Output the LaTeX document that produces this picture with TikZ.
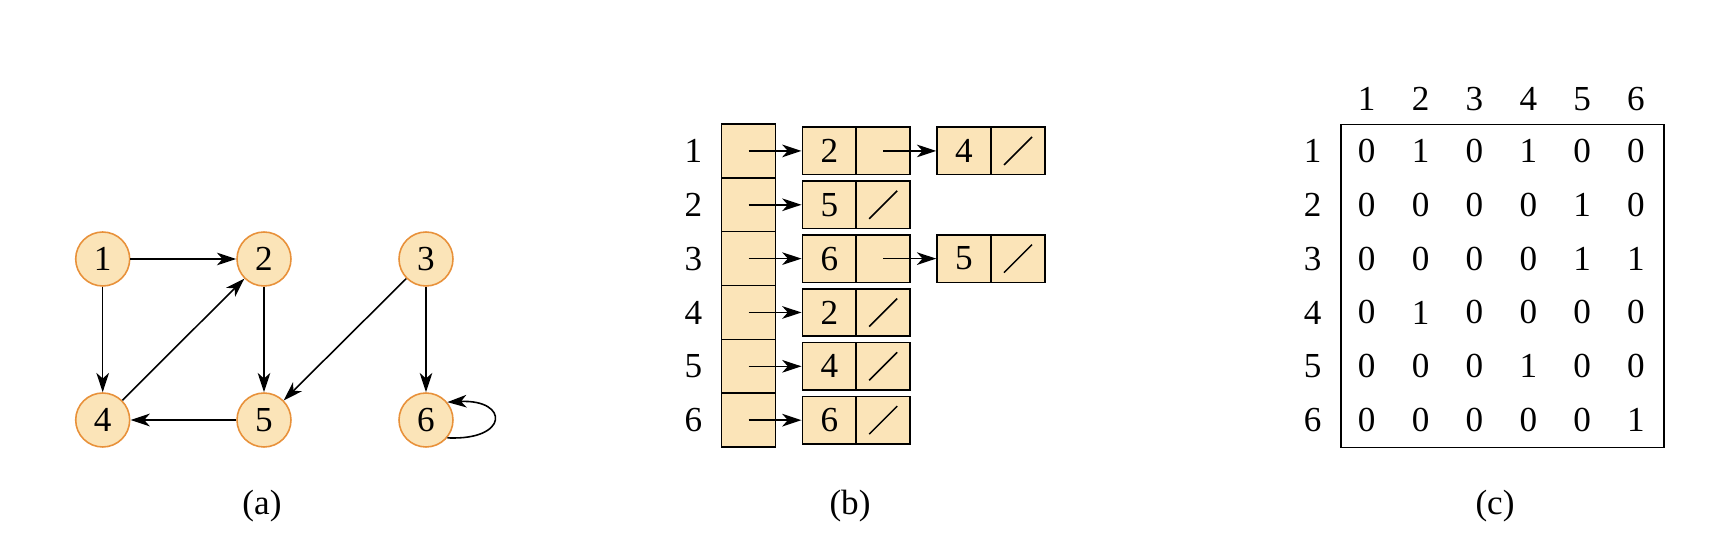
\documentclass[tikz,border=0pt]{standalone}
\usepackage{fontspec}
\setmainfont{Liberation Serif}
\usetikzlibrary{arrows.meta}
\definecolor{vfill}{HTML}{FBE4B8}
\definecolor{vline}{HTML}{E8913A}
\tikzset{
	vertex/.style={circle,draw=vline,fill=vfill,minimum size=0.54cm,inner sep=0},
	slot/.style={draw,fill=vfill,minimum width=0.54cm,minimum height=0.5385cm,inner sep=0},
	cell/.style={draw,fill=vfill,minimum width=0.54cm,minimum height=0.475cm,inner sep=0},
}
\begin{document}
\begin{tikzpicture}[line width=0.45pt,inner sep=0,font=\fontsize{10}{12}\selectfont,
		>={Stealth[length=5.5pt,width=3.6pt,inset=1.6pt]}]
		\useasboundingbox (0,0) rectangle (17.14,5.6);
		% (a) the graph
		\node[vertex] (n1) at (1.027,3.01) {1};
		\node[vertex] (n2) at (2.64,3.01) {2};
		\node[vertex] (n3) at (4.26,3.01) {3};
		\node[vertex] (n4) at (1.027,1.40) {4};
		\node[vertex] (n5) at (2.64,1.40) {5};
		\node[vertex] (n6) at (4.26,1.40) {6};
		\draw[->] (n1)--(n2);
		\draw[->] (n1)--(n4);
		\draw[->] (n2)--(n5);
		\draw[->] (n4)--(n2);
		\draw[->] (n5)--(n4);
		\draw[->] (n3)--(n5);
		\draw[->] (n3)--(n6);
		\draw[->] (n6.-40) .. controls +(0.62,-0.03) and +(0.62,0.03) .. (n6.40);
		\node (capa) at (2.62,0.54) {(a)};
		% (b) adjacency lists
		\foreach \r/\a/\b in {1/2/4,2/5/0,3/6/5,4/2/0,5/4/0,6/6/0} {
			\pgfmathsetmacro\yy{4.36-0.5385*(\r-0.5)}
			\node (r\r) at (6.933,\yy) {\r};
			\node[slot] (s\r) at (7.487,\yy) {};
			\node[cell] (k\r) at (8.293,\yy) {\a};
			\node[cell] (p\r) at (8.832,\yy) {};
			\draw[->] (s\r.center)--(k\r.west);
			\ifnum\b=0
				\draw ([shift={(-0.14,-0.14)}]p\r.center)--([shift={(0.14,0.14)}]p\r.center);
			\else
				\node[cell] (kk\r) at (9.64,\yy) {\b};
				\node[cell] (pp\r) at (10.18,\yy) {};
				\draw[->] (p\r.center)--(kk\r.west);
				\draw ([shift={(-0.14,-0.14)}]pp\r.center)--([shift={(0.14,0.14)}]pp\r.center);
			\fi
		}
		\node (capb) at (8.50,0.54) {(b)};
		% (c) adjacency matrix
		\node[draw,minimum width=3.233cm,minimum height=3.23cm] (box) at (15.024,2.742) {};
		\foreach \j in {1,...,6}
			\node (h\j) at (13.667+0.5386*\j-0.5386,4.607) {\j};
		\foreach \r/\row in {1/{0,1,0,1,0,0},2/{0,0,0,0,1,0},3/{0,0,0,0,1,1},
				4/{0,1,0,0,0,0},5/{0,0,0,1,0,0},6/{0,0,0,0,0,1}} {
			\pgfmathsetmacro\yy{4.36-0.5385*(\r-0.5)}
			\node (l\r) at (13.127,\yy) {\r};
			\foreach \v [count=\j] in \row
				\node (m\r\j) at (13.667+0.5386*\j-0.5386,\yy) {\v};
		}
		\node (capc) at (14.95,0.54) {(c)};
	\end{tikzpicture}
\end{document}
